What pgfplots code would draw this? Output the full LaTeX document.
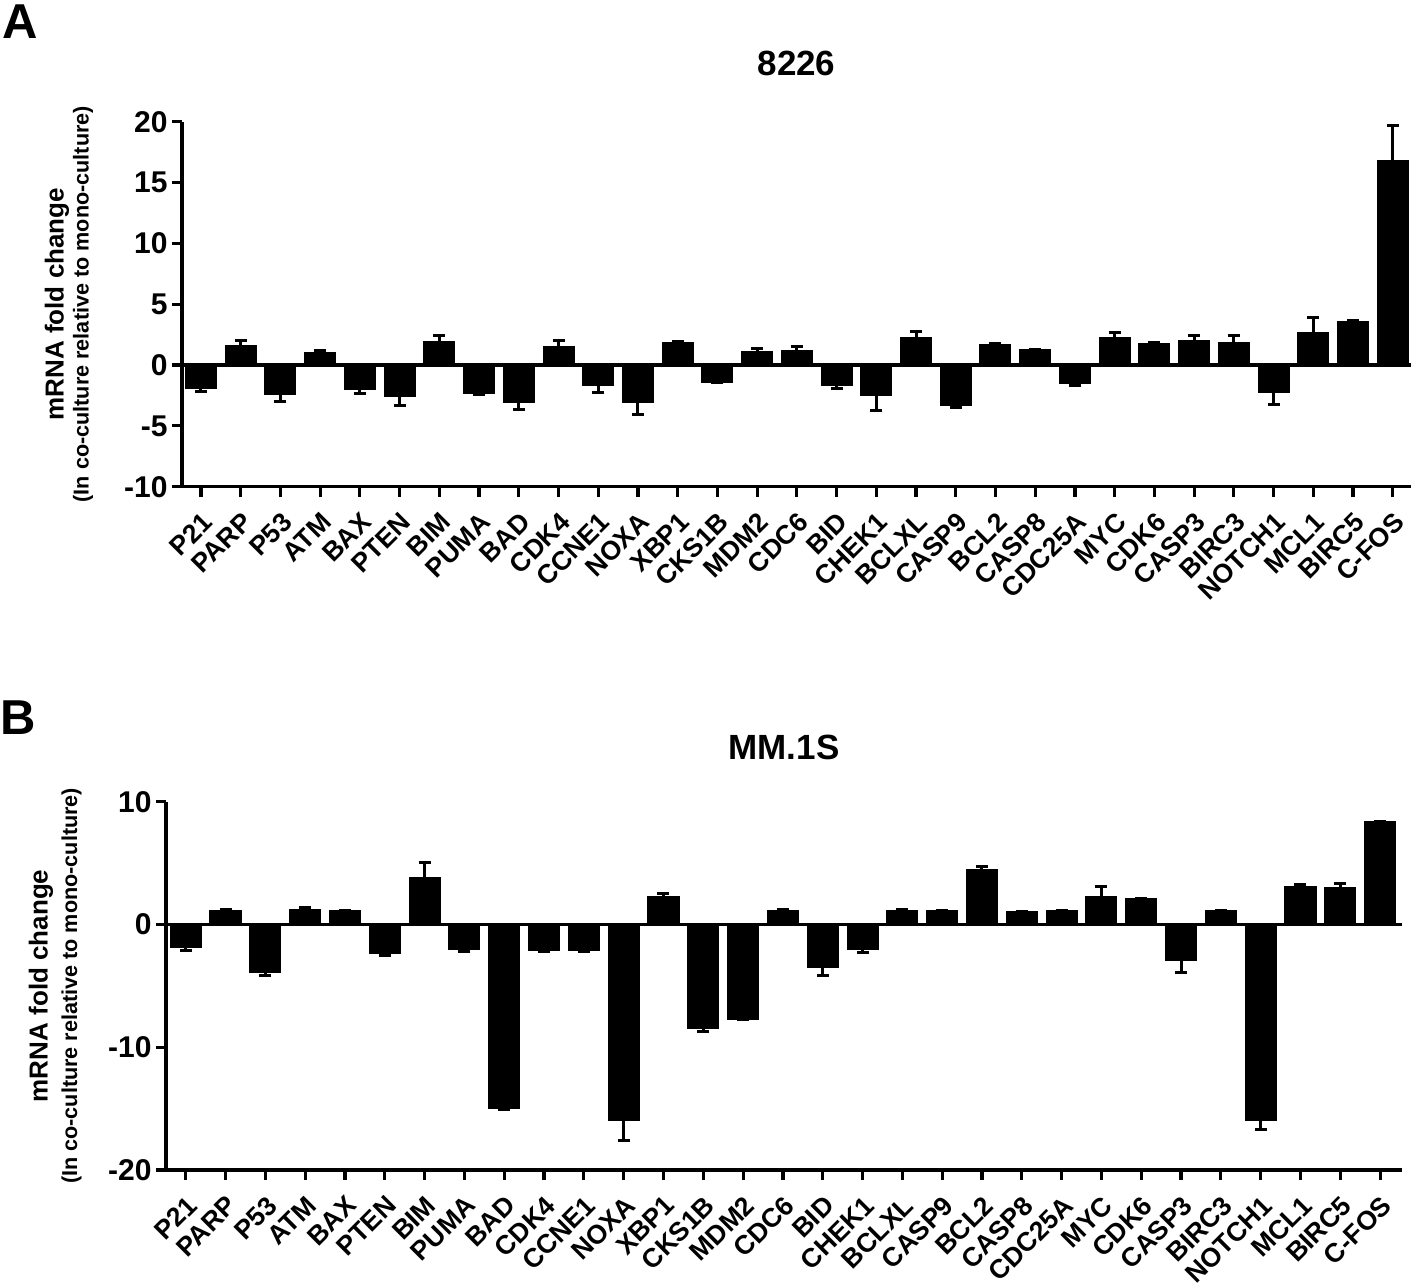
\documentclass[border=0pt]{standalone}
\usepackage{fontspec}
\setmainfont{Liberation Sans}
\usepackage{pgfplots}
\pgfplotsset{compat=1.18}
\usepackage{pgfplotstable}

\pgfplotstableread{
i v e
0 -1.9 0.3
1 1.6 0.4
2 -2.4 0.6
3 1.0 0.2
4 -2.0 0.3
5 -2.6 0.7
6 1.9 0.5
7 -2.3 0.15
8 -3.05 0.6
9 1.5 0.5
10 -1.7 0.55
11 -3.1 0.95
12 1.85 0.1
13 -1.4 0.05
14 1.15 0.2
15 1.2 0.3
16 -1.7 0.2
17 -2.5 1.25
18 2.3 0.45
19 -3.3 0.2
20 1.65 0.08
21 1.25 0.05
22 -1.5 0.2
23 2.3 0.4
24 1.8 0.03
25 2.0 0.4
26 1.85 0.6
27 -2.25 1.0
28 2.7 1.2
29 3.55 0.15
30 16.8 2.9
}\dataA

\pgfplotstableread{
i v e
0 -1.85 0.3
1 1.1 0.08
2 -3.9 0.25
3 1.2 0.2
4 1.1 0.03
5 -2.4 0.1
6 3.85 1.2
7 -2.0 0.2
8 -15.0 0.05
9 -2.15 0.02
10 -2.1 0.1
11 -16.0 1.6
12 2.3 0.2
13 -8.45 0.3
14 -7.7 0.02
15 1.15 0.05
16 -3.5 0.65
17 -2.0 0.25
18 1.15 0.05
19 1.1 0.03
20 4.5 0.25
21 1.05 0.03
22 1.1 0.03
23 2.25 0.85
24 2.1 0.03
25 -2.9 1.0
26 1.1 0.03
27 -16.0 0.7
28 3.1 0.15
29 3.05 0.3
30 8.35 0.05
}\dataB

\pgfplotsset{
  panel/.style={
    scale only axis,
    axis lines*=left,
    axis line style={line width=1.6pt,-},
    xtick={0,...,30},
    xticklabels={P21,PARP,P53,ATM,BAX,PTEN,BIM,PUMA,BAD,CDK4,CCNE1,NOXA,XBP1,CKS1B,MDM2,CDC6,BID,CHEK1,BCLXL,CASP9,BCL2,CASP8,CDC25A,MYC,CDK6,CASP3,BIRC3,NOTCH1,MCL1,BIRC5,C-FOS},
    tick align=outside,
    major tick length=5pt,
    tick style={line width=1.6pt,black},
    xticklabel style={rotate=45,anchor=north east,inner sep=1pt,font=\bfseries\fontsize{13.3}{15}\selectfont},
    xticklabel shift=5.5pt,
    yticklabel style={inner sep=2pt,font=\bfseries\fontsize{15}{17}\selectfont},
    title style={font=\bfseries\fontsize{17.5}{20}\selectfont,anchor=center},
    clip=false,
  },
  bars/.style={
    ybar,bar width=0.78,fill=black,draw=black,line width=0.5pt,
    error bars/.cd,y dir=both,y explicit,
    error bar style={line width=1.5pt,black},
    error mark options={rotate=90,mark size=3pt,line width=1.5pt,black},
  },
}

\begin{document}
\begin{tikzpicture}
\path[use as bounding box] (0,0) rectangle (709pt,-644pt);

\node[font=\bfseries\fontsize{24.5}{28}\selectfont] at (10pt,-11pt) {A};
\node[font=\bfseries\fontsize{24.5}{28}\selectfont] at (9pt,-359pt) {B};

\begin{axis}[panel,
  at={(91pt,-243.35pt)},anchor=south west,
  width=614.5pt,height=182.5pt,
  xmin=-0.478,xmax=30.46,
  ymin=-10,ymax=20,
  ytick={-10,-5,0,5,10,15,20},
  yticklabels={-10,-5,0,5,10,15,20},
  title={8226},
  title style={at={(axis description cs:0.5,1)},yshift=23pt},
]
\addplot[bars] table[x=i,y=v,y error=e] {\dataA};
\addplot[black,line width=1.6pt,sharp plot,no marks,forget plot] coordinates {(-0.478,0) (30.46,0)};
\node[rotate=90,anchor=center,font=\bfseries\fontsize{13}{15}\selectfont] at (axis description cs:-0.1017,0.5) {mRNA fold change};
\node[rotate=90,anchor=center,font=\bfseries\fontsize{10.8}{12}\selectfont] at (axis description cs:-0.0806,0.5) {(In co-culture relative to mono-culture)};
\end{axis}

\begin{axis}[panel,
  at={(83pt,-585pt)},anchor=south west,
  width=618pt,height=184.15pt,
  xmin=-0.495,xmax=30.55,
  ymin=-20,ymax=10,
  ytick={-20,-10,0,10},
  yticklabels={-20,-10,0,10},
  title={MM.1S},
  title style={at={(axis description cs:0.5,1)},yshift=21pt},
]
\addplot[bars] table[x=i,y=v,y error=e] {\dataB};
\addplot[black,line width=1.6pt,sharp plot,no marks,forget plot] coordinates {(-0.495,0) (30.55,0)};
\node[rotate=90,anchor=center,font=\bfseries\fontsize{13}{15}\selectfont] at (axis description cs:-0.1011,0.5) {mRNA fold change};
\node[rotate=90,anchor=center,font=\bfseries\fontsize{10.8}{12}\selectfont] at (axis description cs:-0.0765,0.5) {(In co-culture relative to mono-culture)};
\end{axis}
\end{tikzpicture}
\end{document}
